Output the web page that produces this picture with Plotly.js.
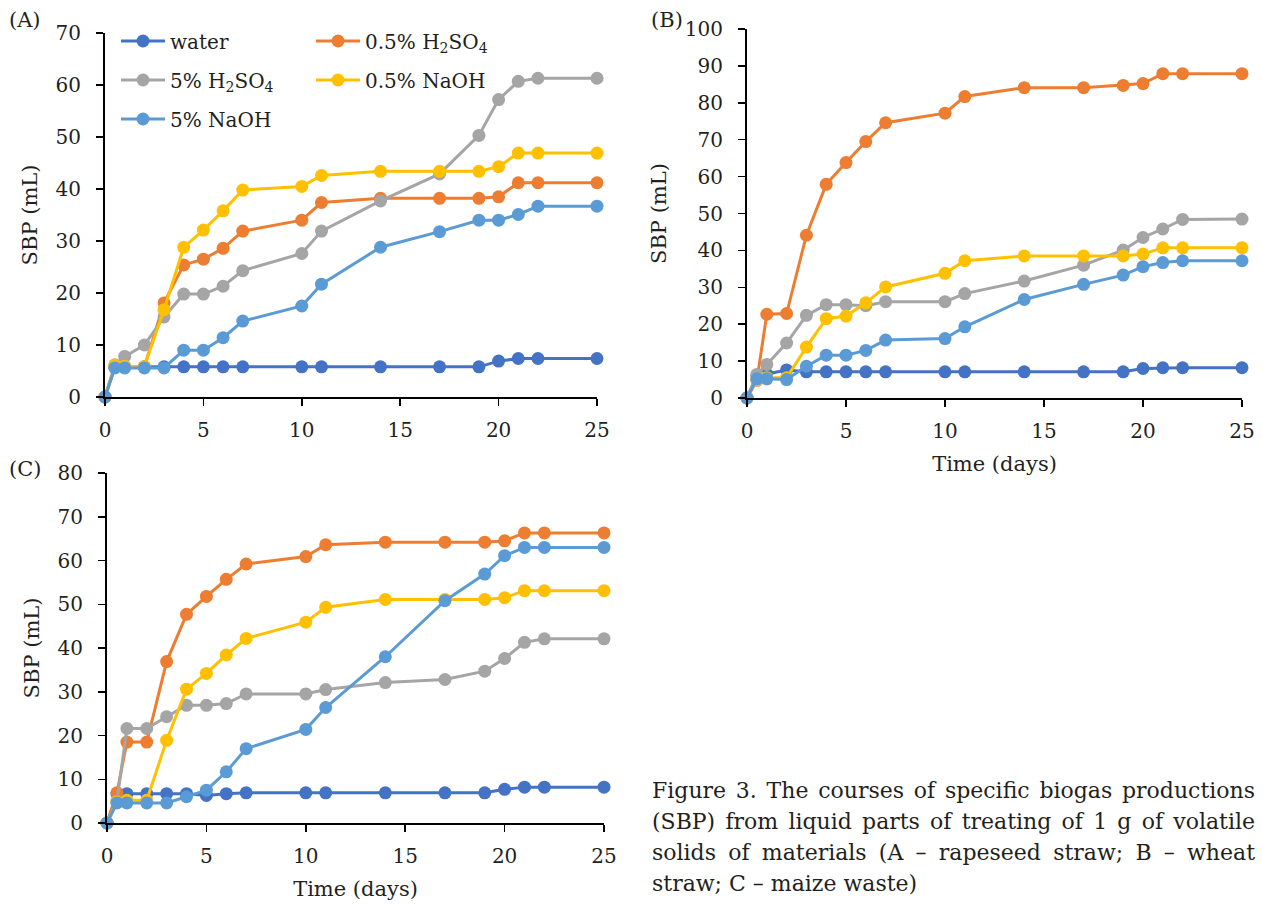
<!DOCTYPE html>
<html>
<head>
<meta charset="utf-8">
<script src="https://cdn.plot.ly/plotly-3.0.1.min.js"></script>
<style>html,body{margin:0;padding:0;background:#fff;}#chart{width:1263px;height:905px;}</style>
</head>
<body>
<div id="chart"></div>
<script>
// ---- data ----
const days = [0, 0.5, 1, 2, 3, 4, 5, 6, 7, 10, 11, 14, 17, 19, 20, 21, 22, 25];
const seriesNames = ["water", "0.5% H<sub>2</sub>SO<sub>4</sub>", "5% H<sub>2</sub>SO<sub>4</sub>", "0.5% NaOH", "5% NaOH"];

// (A) rapeseed straw
const waterA   = [0, 5.8, 5.8, 5.8, 5.8, 5.8, 5.8, 5.8, 5.8, 5.8, 5.8, 5.8, 5.8, 5.8, 6.9, 7.4, 7.4, 7.4];
const h2so4_05A = [0, 5.8, 5.8, 5.8, 18.1, 25.4, 26.5, 28.6, 31.9, 34.0, 37.4, 38.2, 38.2, 38.2, 38.5, 41.2, 41.2, 41.2];
const h2so4_5A  = [0, 6.2, 7.8, 10.0, 15.4, 19.8, 19.8, 21.3, 24.3, 27.6, 31.9, 37.7, 42.9, 50.3, 57.2, 60.7, 61.3, 61.3];
const naoh_05A  = [0, 6.1, 5.9, 5.8, 16.8, 28.8, 32.1, 35.8, 39.8, 40.5, 42.6, 43.4, 43.4, 43.4, 44.3, 46.9, 46.9, 46.9];
const naoh_5A   = [0, 5.6, 5.6, 5.6, 5.6, 9.0, 9.0, 11.4, 14.6, 17.5, 21.7, 28.8, 31.8, 34.0, 34.0, 35.1, 36.7, 36.7];

// (B) wheat straw
const waterB    = [0, 6.0, 6.5, 7.6, 7.1, 7.1, 7.1, 7.1, 7.1, 7.1, 7.1, 7.1, 7.1, 7.1, 8.0, 8.2, 8.2, 8.2];
const h2so4_05B = [0, 4.8, 22.7, 22.9, 44.1, 57.9, 63.8, 69.5, 74.6, 77.2, 81.7, 84.1, 84.1, 84.7, 85.2, 87.9, 87.9, 87.9];
const h2so4_5B  = [0, 6.4, 9.1, 14.9, 22.4, 25.3, 25.3, 25.0, 26.1, 26.1, 28.3, 31.7, 36.0, 40.1, 43.5, 45.8, 48.4, 48.5];
const naoh_05B  = [0, 5.0, 5.5, 5.5, 13.8, 21.5, 22.2, 25.8, 30.1, 33.8, 37.2, 38.5, 38.5, 38.5, 39.0, 40.7, 40.7, 40.7];
const naoh_5B   = [0, 5.2, 5.2, 5.0, 8.6, 11.6, 11.6, 12.9, 15.7, 16.1, 19.3, 26.7, 30.8, 33.3, 35.6, 36.7, 37.2, 37.2];

// (C) maize waste
const waterC    = [0, 6.7, 6.7, 6.7, 6.7, 6.7, 6.3, 6.7, 6.9, 6.9, 6.9, 6.9, 6.9, 6.9, 7.7, 8.2, 8.2, 8.2];
const h2so4_05C = [0, 6.9, 18.5, 18.5, 36.9, 47.7, 51.8, 55.7, 59.2, 60.9, 63.6, 64.2, 64.2, 64.2, 64.5, 66.3, 66.3, 66.3];
const h2so4_5C  = [0, 5.0, 21.6, 21.6, 24.3, 26.9, 26.9, 27.3, 29.5, 29.5, 30.5, 32.1, 32.8, 34.7, 37.6, 41.3, 42.1, 42.1];
const naoh_05C  = [0, 4.8, 5.2, 5.2, 18.9, 30.6, 34.2, 38.4, 42.2, 45.9, 49.3, 51.1, 51.1, 51.1, 51.5, 53.1, 53.1, 53.1];
const naoh_5C   = [0, 4.6, 4.6, 4.6, 4.6, 6.0, 7.5, 11.7, 17.0, 21.4, 26.4, 38.0, 50.8, 56.9, 61.1, 63.0, 63.0, 63.0];

const xTickVals = [0, 5, 10, 15, 20, 25];
const panelLabels = ["(A)", "(B)", "(C)"];
const yTitle = "SBP (mL)";
const xTitle = "Time (days)";
const captionLines = [
  "Figure 3. The courses of specific biogas productions",
  "(SBP) from liquid parts of treating of 1 g of volatile",
  "solids of materials (A \u2013 rapeseed straw; B \u2013 wheat",
  "straw; C \u2013 maize waste)"
];

// ---- styling ----
const colors = ["#4472C4", "#ED7D31", "#A5A5A5", "#FFC000", "#5B9BD5"];
const FONT = "DejaVu Serif";
const TXT = "#231f20";
const W = 1263, H = 905;

const panels = [
  {series: [waterA, h2so4_05A, h2so4_5A, naoh_05A, naoh_5A], xa: "x", ya: "y", legend: true},
  {series: [waterB, h2so4_05B, h2so4_5B, naoh_05B, naoh_5B], xa: "x2", ya: "y2", legend: false},
  {series: [waterC, h2so4_05C, h2so4_5C, naoh_05C, naoh_5C], xa: "x3", ya: "y3", legend: false}
];
const legendRows = ["legend", "legend", "legend2", "legend2", "legend3"];

const traces = [];
panels.forEach(p => {
  p.series.forEach((vals, i) => {
    traces.push({
      x: days, y: vals, xaxis: p.xa, yaxis: p.ya,
      type: "scatter", mode: "lines+markers",
      name: seriesNames[i],
      line: {color: colors[i], width: 3},
      marker: {color: colors[i], size: 13},
      cliponaxis: false,
      showlegend: p.legend,
      legend: legendRows[i],
      hoverinfo: "x+y+name"
    });
  });
});

function px(x) { return x / W; }
function py(y) { return 1 - y / H; }

function xAxis(d0, d1, anchor, withTitle) {
  const a = {
    domain: [px(d0), px(d1)], anchor: anchor, range: [0, 25],
    tickvals: xTickVals, ticks: "outside", ticklen: 7, tickwidth: 1.5, tickcolor: "#000",
    showline: true, linecolor: "#000", linewidth: 2, showgrid: false, zeroline: false,
    tickfont: {family: FONT, size: 20, color: TXT}, ticklabelstandoff: 7, fixedrange: true
  };
  if (withTitle) a.title = {text: xTitle, font: {family: FONT, size: 21, color: TXT}, standoff: 14};
  return a;
}
function yAxis(top, bottom, anchor, rmax, dt) {
  return {
    domain: [py(bottom), py(top)], anchor: anchor, range: [0, rmax], dtick: dt,
    ticks: "outside", ticklen: 7, tickwidth: 1.5, tickcolor: "#000",
    showline: true, linecolor: "#000", linewidth: 2, showgrid: false, zeroline: false,
    tickfont: {family: FONT, size: 20, color: TXT}, ticklabelstandoff: 11, fixedrange: true,
    title: {text: yTitle, font: {family: FONT, size: 21, color: TXT}, standoff: 12}
  };
}

const legendCommon = {
  orientation: "h", xanchor: "left", yanchor: "middle",
  font: {family: FONT, size: 20, color: TXT},
  entrywidth: 136, entrywidthmode: "pixels", itemwidth: 44,
  bgcolor: "rgba(0,0,0,0)", borderwidth: 0, itemclick: false, itemdoubleclick: false
};

const annotations = [];
const labelPos = [[7, 20], [649, 20], [7, 469]];
panelLabels.forEach((t, i) => {
  annotations.push({text: t, xref: "paper", yref: "paper", x: px(labelPos[i][0]), y: py(labelPos[i][1]),
    xanchor: "left", yanchor: "middle", showarrow: false, font: {family: FONT, size: 21, color: TXT}});
});
const capY = [790, 821, 852, 883];
captionLines.forEach((t, i) => {
  annotations.push({text: t, xref: "paper", yref: "paper", x: px(650), y: py(capY[i]),
    xanchor: "left", yanchor: "middle", showarrow: false, font: {family: FONT, size: 22, color: TXT}});
});

const layout = {
  width: W, height: H, margin: {l: 0, r: 0, t: 0, b: 0},
  paper_bgcolor: "#fff", plot_bgcolor: "rgba(0,0,0,0)",
  showlegend: true,
  xaxis: xAxis(105, 597, "y", false),
  yaxis: yAxis(33, 397, "x", 70, 10),
  xaxis2: xAxis(747, 1242, "y2", true),
  yaxis2: yAxis(29, 398, "x2", 100, 10),
  xaxis3: xAxis(107, 604, "y3", true),
  yaxis3: yAxis(473, 823, "x3", 80, 10),
  legend: Object.assign({}, legendCommon, {x: px(116), y: py(41)}),
  legend2: Object.assign({}, legendCommon, {x: px(116), y: py(80)}),
  legend3: Object.assign({}, legendCommon, {x: px(116), y: py(119)}),
  annotations: annotations
};

// justify the first three caption lines to the caption block width
const CAPTION_WIDTH = 603;
Plotly.newPlot("chart", traces, layout, {staticPlot: true, displayModeBar: false}).then(() => {
  const texts = document.querySelectorAll("#chart .annotation-text");
  texts.forEach(el => {
    const idx = captionLines.indexOf(el.textContent);
    if (idx < 0 || idx === captionLines.length - 1) return;
    const natural = el.getComputedTextLength();
    const gaps = (captionLines[idx].match(/ /g) || []).length;
    if (!gaps || natural >= CAPTION_WIDTH) return;
    const ws = (CAPTION_WIDTH - natural) / gaps;
    el.style.wordSpacing = ws + "px";
    const anchor = el.getAttribute("text-anchor");
    const shift = anchor === "middle" ? (CAPTION_WIDTH - natural) / 2 : (anchor === "end" ? CAPTION_WIDTH - natural : 0);
    const x = parseFloat(el.getAttribute("x") || "0");
    el.setAttribute("x", x + shift);
  });
});
</script>
</body>
</html>
